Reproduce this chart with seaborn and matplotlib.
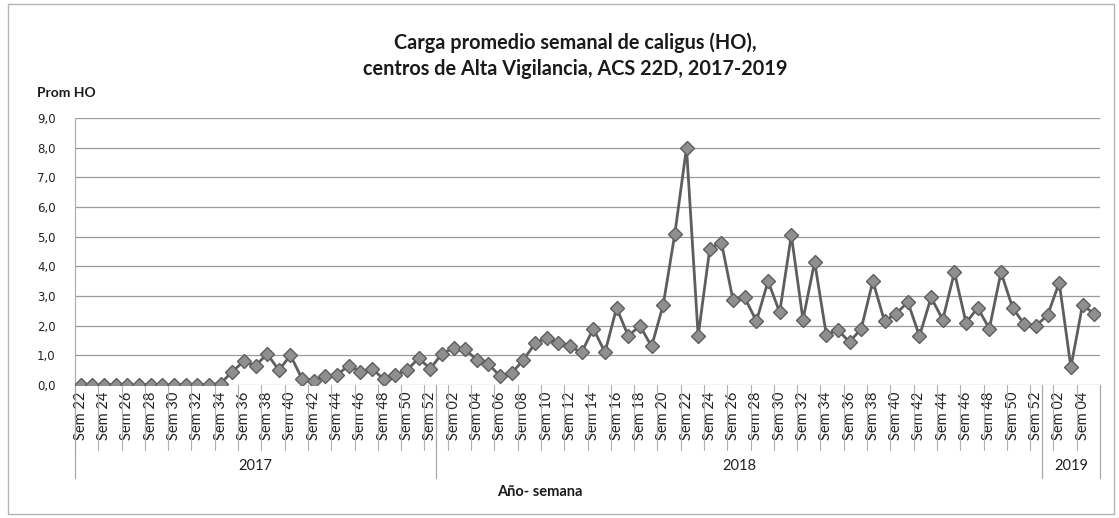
import matplotlib
matplotlib.use("Agg")
import matplotlib.pyplot as plt
import matplotlib.transforms as mtransforms
import numpy as np
import pandas as pd
import seaborn as sns
from matplotlib.patches import Rectangle
from matplotlib.ticker import FuncFormatter

# weekly average caligus load, grouped by year
years = ["2017", "2018", "2019"]
weeks_2017 = list(range(22, 53))
weeks_2018 = list(range(1, 53))
weeks_2019 = list(range(1, 6))

values_2017 = [0.0, 0.0, 0.0, 0.0, 0.0, 0.0, 0.0, 0.0, 0.0, 0.0, 0.0, 0.0,
               0.05, 0.45, 0.8, 0.65, 1.05, 0.5, 1.0, 0.2, 0.15, 0.3, 0.35,
               0.65, 0.45, 0.55, 0.2, 0.35, 0.5, 0.9, 0.55]
values_2018 = [1.05, 1.25, 1.2, 0.85, 0.7, 0.3, 0.4, 0.85, 1.4, 1.6, 1.4, 1.3,
               1.1, 1.9, 1.1, 2.6, 1.65, 2.0, 1.3, 2.7, 5.1, 8.0, 1.65, 4.6,
               4.8, 2.85, 2.95, 2.15, 3.5, 2.45, 5.05, 2.2, 4.15, 1.7, 1.85,
               1.45, 1.9, 3.5, 2.15, 2.4, 2.8, 1.65, 2.95, 2.2, 3.8, 2.1,
               2.6, 1.9, 3.8, 2.6, 2.05, 2.0]
values_2019 = [2.35, 3.45, 0.6, 2.7, 2.4]

title = "Carga promedio semanal de caligus (HO),\ncentros de Alta Vigilancia, ACS 22D, 2017-2019"
y_label = "Prom HO"
x_label = "Año- semana"

rows = []
for year, weeks, vals in zip(years, [weeks_2017, weeks_2018, weeks_2019],
                             [values_2017, values_2018, values_2019]):
    for w, v in zip(weeks, vals):
        rows.append({"year": year, "week": w, "label": f"Sem {w:02d}", "value": v})
df = pd.DataFrame(rows)
df["pos"] = np.arange(len(df))

sns.set_theme(style="white")
plt.rcParams["font.family"] = ["Lato", "DejaVu Sans"]

fig = plt.figure(figsize=(11.19, 5.18), dpi=100)
ax = fig.add_axes([75 / 1119, 1 - 385 / 518, 1025 / 1119, 267 / 518])

for yv in range(0, 10):
    ax.axhline(yv, color="#9a9a9a", lw=0.9, zorder=0)

sns.lineplot(data=df, x="pos", y="value", ax=ax, color="#5e5e5e", linewidth=2.0,
             marker="D", markersize=7.5, markerfacecolor="#8f8f8f",
             markeredgecolor="#5e5e5e", markeredgewidth=1.0, zorder=3)

ax.set_xlim(-0.5, len(df) - 0.5)
ax.set_ylim(0, 9)
ax.set_yticks(range(0, 10))
ax.yaxis.set_major_formatter(FuncFormatter(lambda v, _: f"{v:.1f}".replace(".", ",")))
for lab in ax.get_yticklabels():
    lab.set_fontfamily("DejaVu Sans")
ax.tick_params(axis="y", length=0, labelsize=8.5, pad=14, colors="#222222")

tick_rows = df[df["pos"] % 2 == 0]
ax.set_xticks(tick_rows["pos"])
ax.set_xticklabels(tick_rows["label"], rotation=90, fontsize=10.5, color="#222222")
ax.tick_params(axis="x", length=0, pad=5)
ax.set_xlabel("")
ax.set_ylabel("")

for side in ["top", "right", "bottom"]:
    ax.spines[side].set_visible(False)
ax.spines["left"].set_color("#b0b0b0")
ax.spines["left"].set_linewidth(0.9)

trans = mtransforms.blended_transform_factory(ax.transData, ax.transAxes)
# short separators between week labels
for p in tick_rows["pos"]:
    ax.plot([p - 0.5, p - 0.5], [0, -0.245], transform=trans, color="#b0b0b0",
            lw=0.8, clip_on=False)
# long separators between years, plus year labels
bounds = [-0.5]
for year in years:
    sub = df[df["year"] == year]
    bounds.append(sub["pos"].max() + 0.5)
    ax.text(sub["pos"].mean(), -0.305, year, transform=trans, ha="center",
            va="center", fontsize=10.5, color="#222222")
for b in bounds:
    ax.plot([b, b], [0, -0.35], transform=trans, color="#a8a8a8", lw=0.9,
            clip_on=False)

fig.text(575 / 1119, 1 - 56 / 518, title, ha="center", va="center",
         fontsize=14.3, fontweight="bold", color="#1a1a1a", linespacing=1.4)
fig.text(37 / 1119, 1 - 93 / 518, y_label, ha="left", va="center",
         fontsize=10, fontweight="bold", color="#1a1a1a")
fig.text(540 / 1119, 1 - 492 / 518, x_label, ha="center", va="center",
         fontsize=10.5, fontweight="bold", color="#1a1a1a")

fig.patches.append(Rectangle((8 / 1119, 4 / 518), 1106 / 1119, 510 / 518,
                             transform=fig.transFigure, fill=False,
                             edgecolor="#b5b5b5", lw=1.0))

fig.savefig("out.png", dpi=100)
